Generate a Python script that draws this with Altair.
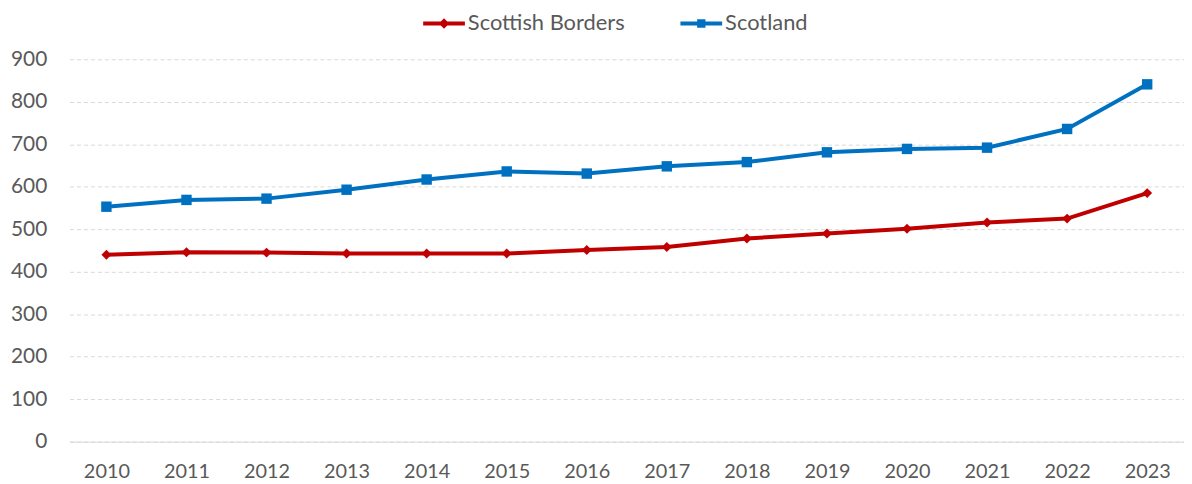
import altair as alt
import pandas as pd

years = [str(y) for y in range(2010, 2024)]
borders = [440, 446, 445, 443, 443, 443, 451, 458, 478, 490, 501, 516, 525, 585]
scotland = [553, 569, 572, 593, 617, 636, 631, 648, 658, 681, 689, 692, 736, 841]
series_names = ["Scottish Borders", "Scotland"]
series_colors = ["#C00000", "#0070C0"]
series_shapes = ["diamond", "square"]
y_ticks = list(range(0, 1000, 100))

df = pd.DataFrame({
    "year": years * 2,
    "value": borders + scotland,
    "series": [series_names[0]] * len(years) + [series_names[1]] * len(years),
})

FONT = "Lato"
TXT = "#595959"

# legend symbols: line segment + marker (custom SVG paths)
path_diamond = "M-1,-0.095H1V0.095H-1Z M0,-0.25L0.25,0L0,0.25L-0.25,0Z"
path_square = "M-1,-0.095H1V0.095H-1Z M-0.2,-0.2H0.2V0.2H-0.2Z"

x = alt.X("year:O", sort=years,
          scale=alt.Scale(type="point", padding=0.46),
          axis=alt.Axis(title=None, labelAngle=0, ticks=False, domain=True,
                        domainColor="#D9D9D9", domainWidth=1, labelFont=FONT,
                        labelFontSize=20, labelColor=TXT, labelPadding=20, grid=False,
                        zindex=1))
y = alt.Y("value:Q", scale=alt.Scale(domain=[0, 900], nice=False, zero=True),
          axis=alt.Axis(title=None, values=y_ticks, grid=True, gridColor="#D9D9D9",
                        gridDash=[4, 3], gridWidth=1, domain=False, ticks=False,
                        labelFont=FONT, labelFontSize=21, labelColor=TXT, labelPadding=23))

base = alt.Chart(df)

layers = []
for name, col, shp, sz in zip(series_names, series_colors, series_shapes, [100, 110]):
    sub = base.transform_filter(alt.datum.series == name)
    layers.append(sub.mark_line(strokeWidth=4, color=col).encode(x=x, y=y))
    layers.append(sub.mark_point(shape=shp, filled=True, size=sz, opacity=1, color=col).encode(x=x, y=y))

leg = alt.Legend(title=None, orient="none", legendX=356, legendY=-57, direction="horizontal",
                 labelFont=FONT, labelFontSize=22, labelColor=TXT, symbolSize=1764,
                 symbolStrokeWidth=0, symbolOpacity=1, columnPadding=56, labelOffset=3,
                 labelLimit=400)
legend_layer = base.mark_point(filled=True, opacity=1, strokeWidth=0, size=0).encode(
    x=x, y=y,
    color=alt.Color("series:N", sort=series_names,
                    scale=alt.Scale(domain=series_names, range=series_colors), legend=leg),
    shape=alt.Shape("series:N", sort=series_names,
                    scale=alt.Scale(domain=series_names, range=[path_diamond, path_square]), legend=leg),
)
layers.append(legend_layer)

chart = alt.layer(*layers).properties(
    width=1122, height=385,
    background="white",
    autosize=alt.AutoSizeParams(type="none"),
    padding={"left": 62, "top": 50, "right": 0, "bottom": 41},
).configure_view(strokeWidth=0)

chart.save("out.html", embed_options={"renderer": "svg", "actions": False})
